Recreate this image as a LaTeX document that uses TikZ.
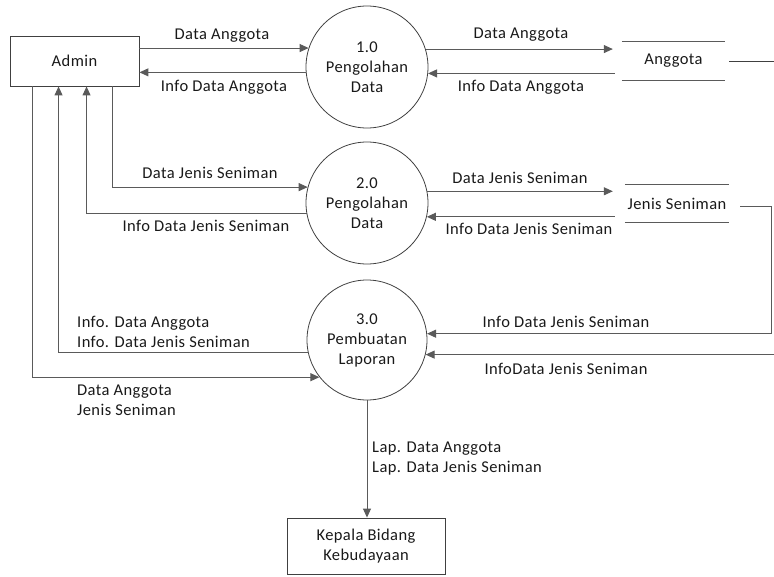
\documentclass[tikz,border=0pt]{standalone}
\usepackage{fontspec}
\setmainfont{Carlito}[LetterSpace=2.5]
\usetikzlibrary{arrows.meta,calc}
\definecolor{ln}{RGB}{90,90,90}
\definecolor{bd}{RGB}{64,64,64}
\definecolor{tx}{RGB}{25,25,25}
\begin{document}
\begin{tikzpicture}[x=1pt,y=-1pt,
  every node/.style={font=\fontsize{16.5}{20}\selectfont, text=tx},
  ent/.style={draw=bd, line width=0.9pt, inner sep=0pt, align=center},
  proc/.style={circle, draw=bd, line width=0.8pt, minimum size=122pt, inner sep=0pt, align=center},
  store/.style={inner sep=0pt, align=center},
  storeline/.style={draw=ln, line width=0.9pt},
  flow/.style={draw=ln, line width=1pt, -{Triangle[length=9pt,width=8pt]}},
  lbl/.style={inner sep=0pt, align=left}
]
\useasboundingbox (0,0) rectangle (774,576);

% entities
\node[ent, minimum width=129pt, minimum height=50pt] (admin) at (74.5,61) {Admin};
\node[ent, minimum width=158pt, minimum height=56pt] (kepala) at (366,546) {Kepala Bidang\\Kebudayaan};

% processes
\node[proc] (p1) at (367,67) {1.0\\Pengolahan\\Data};
\node[proc] (p2) at (367,203) {2.0\\Pengolahan\\Data};
\node[proc, minimum size=120pt] (p3) at (367,340) {3.0\\Pembuatan\\Laporan};

% data stores
\node[store, minimum width=103pt, minimum height=38pt] (ang) at (673.5,61) {Anggota};
\draw[storeline] (ang.north west) -- (ang.north east);
\draw[storeline] (ang.south west) -- (ang.south east);
\node[store, minimum width=104pt, minimum height=37pt] (jen) at (677,203.5) {Jenis Seniman};
\draw[storeline] (jen.north west) -- (jen.north east);
\draw[storeline] (jen.south west) -- (jen.south east);

% free ends
\coordinate (angout) at (774,61);
\coordinate (in2) at (774,355);

% flows admin <-> p1
\draw[flow] (admin.east |- p1.162.8) -- (p1.162.8);
\draw[flow] (p1.185.6) -- (admin.east |- p1.185.6);
% p1 <-> anggota
\draw[flow] (p1.17.2) -- ([xshift=-9pt]ang.west |- p1.17.2);
\draw[flow] ([xshift=-7pt]ang.west |- p1.-6.6) -- (p1.-6.6);
\draw[draw=bd, line width=0.8pt] ([xshift=4pt]ang.east) -- (angout);

% admin <-> p2
\draw[flow] ([xshift=103pt]admin.south west) |- (p2.165.8);
\draw[flow] (p2.190.4) -| ([xshift=77pt]admin.south west);
% p2 <-> jenis
\draw[flow] (p2.11.3) -- ([xshift=-12pt]jen.west |- p2.11.3);
\draw[flow] ([xshift=-10pt]jen.west |- p2.-13.3) -- (p2.-13.3);

% jenis -> p3
\draw[flow] ([xshift=11pt,yshift=-3pt]jen.east) -- ++(31,0) |- (p3.6.7);
\draw[flow] (in2 |- p3.-14.5) -- (p3.-14.5);

% p3 <-> admin
\draw[flow] (p3.192.5) -| ([xshift=49pt]admin.south west);
\draw[flow] ([xshift=23pt]admin.south west) |- (p3.218.1);

% p3 -> kepala
\draw[flow] (p3.south) -- (p3.south |- kepala.north);

% labels
\node[lbl] (l1) at (222,36) {Data Anggota};
\node[lbl] (l2) at (224,87) {Info Data Anggota};
\node[lbl] (l3) at (521,35) {Data Anggota};
\node[lbl] (l4) at (521,87) {Info Data Anggota};
\node[lbl] (l5) at (210,173) {Data Jenis Seniman};
\node[lbl] (l6) at (206,226) {Info Data Jenis Seniman};
\node[lbl] (l7) at (520,178) {Data Jenis Seniman};
\node[lbl] (l8) at (529,229) {Info Data Jenis Seniman};
\node[lbl, anchor=west] (l9) at (77,332) {Info. Data Anggota\\Info. Data Jenis Seniman};
\node[lbl, anchor=west] (l10) at (77,400) {Data Anggota\\Jenis Seniman};
\node[lbl] (l11) at (566,322) {Info Data Jenis Seniman};
\node[lbl] (l12) at (566,369) {InfoData Jenis Seniman};
\node[lbl, anchor=west] (l13) at (372,459) {Lap. Data Anggota\\Lap. Data Jenis Seniman};
\end{tikzpicture}
\end{document}
